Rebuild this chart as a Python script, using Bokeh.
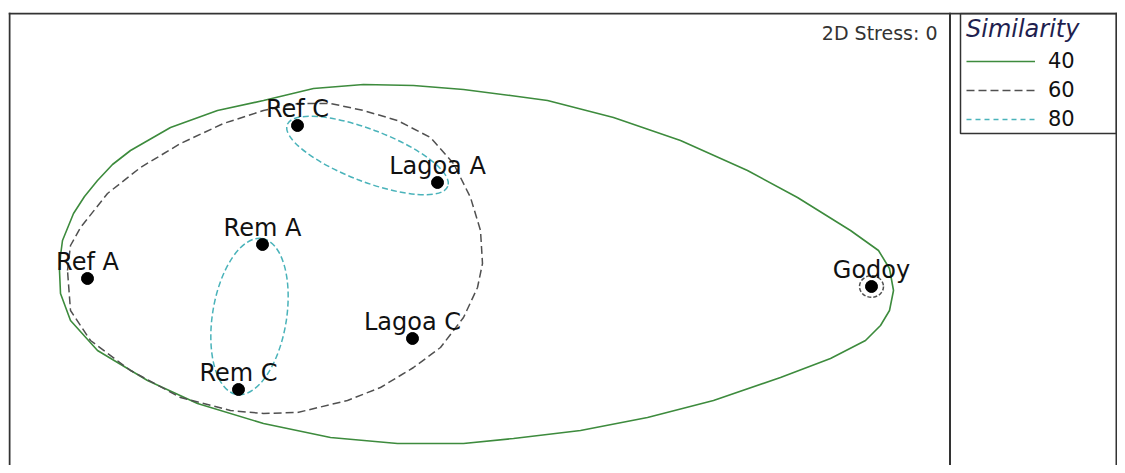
from bokeh.plotting import figure
from bokeh.models import Range1d, Span, BoxAnnotation, Label, Legend, LegendItem
from bokeh.embed import file_html
from bokeh.resources import INLINE
from bokeh.core.properties import value

# ---- data (NMDS coordinates) ----
sites = ["Ref A", "Ref C", "Rem A", "Rem C", "Lagoa A", "Lagoa C", "Godoy"]
mds1 = [-1.572, -0.732, -0.872, -0.968, -0.172, -0.272, 1.564]
mds2 = [-0.072, 0.540, 0.064, -0.516, 0.312, -0.312, -0.104]

# 40% similarity contour (traced)
c40_x = [-1.684, -1.680, -1.672, -1.628, -1.584, -1.532, -1.472, -1.400, -1.240, -1.052,
         -0.868, -0.668, -0.468, -0.268, -0.068, 0.120, 0.268, 0.532, 0.800, 1.068,
         1.268, 1.480, 1.592, 1.636, 1.652, 1.636, 1.600, 1.540, 1.400, 1.200,
         0.932, 0.668, 0.400, 0.132, -0.068, -0.332, -0.600, -0.868, -1.132, -1.332,
         -1.532, -1.640, -1.680, -1.684]
c40_y = [-0.040, 0.020, 0.080, 0.188, 0.256, 0.320, 0.384, 0.440, 0.532, 0.600,
         0.640, 0.688, 0.704, 0.700, 0.684, 0.660, 0.640, 0.572, 0.480, 0.360,
         0.252, 0.120, 0.040, -0.032, -0.120, -0.200, -0.260, -0.320, -0.392, -0.468,
         -0.560, -0.628, -0.680, -0.712, -0.732, -0.732, -0.708, -0.652, -0.572, -0.480,
         -0.360, -0.240, -0.132, -0.040]

# 60% similarity contour (traced)
c60_x = [-1.652, -1.640, -1.600, -1.492, -1.360, -1.200, -1.028, -0.868, -0.732, -0.600,
         -0.468, -0.332, -0.200, -0.108, -0.040, 0.000, 0.008, -0.012, -0.068, -0.160,
         -0.268, -0.400, -0.532, -0.732, -0.868, -1.000, -1.200, -1.400, -1.560, -1.640, -1.652]
c60_y = [-0.040, 0.060, 0.132, 0.268, 0.372, 0.468, 0.548, 0.600, 0.628, 0.628,
         0.600, 0.560, 0.492, 0.388, 0.252, 0.120, -0.012, -0.108, -0.228, -0.348,
         -0.428, -0.508, -0.560, -0.608, -0.612, -0.600, -0.548, -0.440, -0.320, -0.200, -0.040]
# 60% contour around Godoy alone
g60_x = [1.564]
g60_y = [-0.104]
g60_d = [0.096]

# 80% similarity contours (ellipses)
e80_x = [-0.452, -0.924]
e80_y = [0.420, -0.224]
e80_w = [0.688, 0.632]
e80_h = [0.208, 0.296]
e80_a = [-0.3665, 1.409]

levels = ["40", "60", "80"]
stress_text = "2D Stress: 0"

# ---- layout ----
W, H = 1117, 465
LEFT, TOP = 8, 12
PX = 250.0
X0 = (LEFT - 480) / PX
X1 = X0 + (W - LEFT) / PX
Y1 = (260 - TOP) / PX
Y0 = Y1 - (H - TOP) / PX


def px2x(px):
    return X0 + (px - LEFT) / PX


def px2y(py):
    return Y1 - (py - TOP) / PX


GREEN = "#3d8b3d"
GRAY = "#505050"
CYAN = "#4ab3ba"
FRAME = "#333333"

p = figure(width=W, height=H, x_range=Range1d(X0, X1), y_range=Range1d(Y0, Y1),
           x_axis_type=None, y_axis_type=None, output_backend="svg",
           toolbar_location=None, min_border_left=LEFT, min_border_right=0,
           min_border_bottom=0, min_border_top=TOP)
p.grid.visible = False
p.outline_line_color = None
p.background_fill_color = "white"

r40 = p.line(c40_x, c40_y, line_color=GREEN, line_width=1.6)
r60 = p.line(c60_x, c60_y, line_color=GRAY, line_width=1.5, line_dash="8 4")
p.ellipse(x=g60_x, y=g60_y, width=g60_d, height=[d * 0.9 for d in g60_d],
          fill_color=None, line_color=GRAY, line_width=1.5, line_dash="4 2")
p.ellipse(x=e80_x, y=e80_y, width=e80_w, height=e80_h, angle=e80_a,
          fill_color=None, line_color=CYAN, line_width=1.5, line_dash="6 3")
# legend proxy for the 80% contours (single vertex, draws nothing in the plot)
r80 = p.line(e80_x[:1], e80_y[:1], line_color=CYAN, line_width=1.5, line_dash="5 4")

p.scatter(mds1, mds2, size=12, color="black")
p.text(mds1, mds2, text=sites, text_align="center", text_baseline="alphabetic",
       y_offset=-17, text_font=value("DejaVu Sans"), text_font_size="24px",
       text_color="#111111")

p.add_layout(Label(x=px2x(937), y=px2y(32), text=stress_text, text_align="right",
                   text_baseline="alphabetic", text_font="DejaVu Sans",
                   text_font_size="19px", text_color="#333333"))

# frame lines
p.add_layout(Span(location=px2y(13), dimension="width", line_color=FRAME, line_width=2))
p.add_layout(Span(location=px2x(9), dimension="height", line_color=FRAME, line_width=2))
p.add_layout(Span(location=px2x(949.5), dimension="height", line_color=FRAME, line_width=2))
p.add_layout(Span(location=px2x(1116), dimension="height", line_color=FRAME, line_width=2))
p.add_layout(BoxAnnotation(left=px2x(960), right=px2x(1116), top=px2y(13), bottom=px2y(133),
                           fill_alpha=0, line_color=FRAME, line_alpha=1, line_width=1.5))

legend = Legend(items=[LegendItem(label=levels[0], renderers=[r40]),
                       LegendItem(label=levels[1], renderers=[r60]),
                       LegendItem(label=levels[2], renderers=[r80])],
                location=(966 - LEFT, 334), title="Similarity",
                title_text_font="DejaVu Sans", title_text_font_style="italic",
                title_text_font_size="24px", title_text_color="#1f1f4f",
                title_standoff=6,
                label_text_font="DejaVu Sans", label_text_font_size="21px",
                label_text_color="#111111",
                glyph_width=69, glyph_height=20, label_height=20, label_standoff=13,
                spacing=5, padding=2, margin=0,
                border_line_color=None, background_fill_alpha=0)
p.add_layout(legend)

open("out.html", "w").write(file_html(p, INLINE))
